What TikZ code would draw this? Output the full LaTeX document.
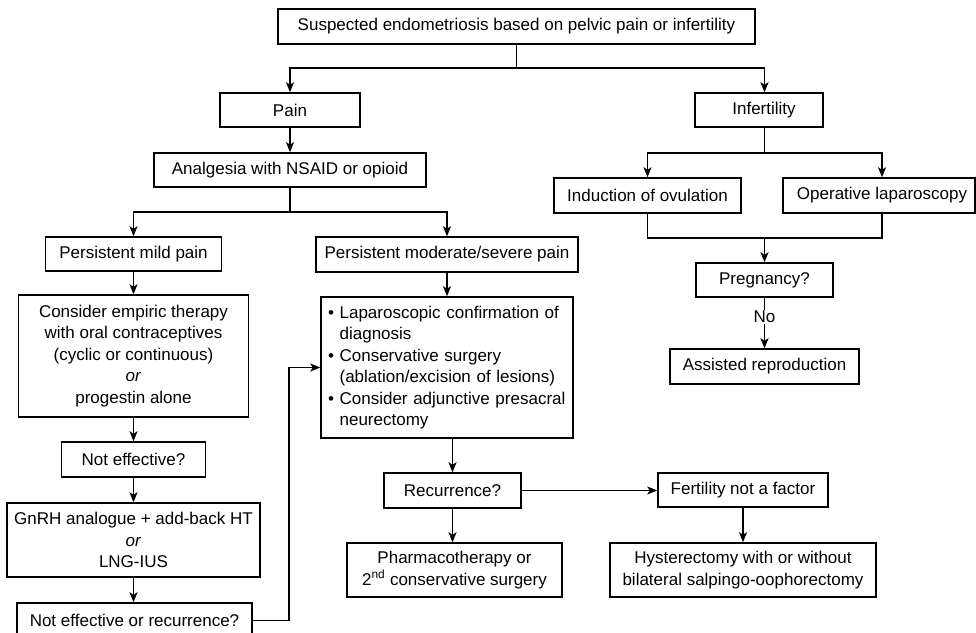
\documentclass[tikz,border=0pt]{standalone}
\usepackage{fontspec}
\setmainfont{Liberation Sans}
\usetikzlibrary{arrows.meta}
\begin{document}
\begin{tikzpicture}[x=1pt,y=-1pt,
  bx/.style={draw, line width=1.5pt, inner sep=0pt, align=center, font=\fontsize{17}{21.5}\selectfont},
  sz/.style 2 args={minimum width=#1pt, minimum height=#2pt},
  conn/.style={line width=1.5pt},
  arr/.style={conn, -{Stealth[length=10pt,width=8pt,inset=2.5pt]}}]
\useasboundingbox (0,0) rectangle (976,632);

% nodes
\node[bx, sz={477}{35}] (top) at (516.5,26.5) {Suspected endometriosis based on pelvic pain or infertility};
\node[bx, sz={140}{34}] (pain) at (290,110) {Pain};
\node[bx, sz={272}{34}] (analg) at (290,170) {Analgesia with NSAID or opioid};
\node[bx, sz={128}{34}] (infert) at (759,110) {\hspace*{10pt}Infertility};
\node[bx, sz={187}{35}] (induct) at (647.5,195.5) {Induction of ovulation};
\node[bx, sz={192}{35}] (oplap) at (879,195.5) {\hspace*{6pt}Operative laparoscopy};
\node[bx, sz={137}{34}] (preg) at (764.5,280) {Pregnancy?};
\node[bx, sz={189}{35}] (assist) at (764.5,366.5) {Assisted reproduction};
\node[bx, sz={176}{34}] (mild) at (133.5,254) {Persistent mild pain};
\node[bx, sz={230}{122}] (empiric) at (133.5,356) {Consider empiric therapy\\with oral contraceptives\\(cyclic or continuous)\\\textit{or}\\progestin alone};
\node[bx, sz={144}{35}] (noteff) at (133.5,459.5) {Not effective?};
\node[bx, sz={253}{74}] (gnrh) at (133.5,540) {GnRH analogue + add-back HT\\\textit{or}\\LNG-IUS};
\node[bx, sz={235}{35}] (noteffrec) at (134.5,620.5) {Not effective or recurrence?};
\node[bx, sz={262}{35}] (moder) at (447,254.5) {Persistent moderate/severe pain};
\node[bx, sz={252}{141}, text width=238pt, align=left] (lap) at (447,367.5)
  {\textbullet\ Laparoscopic confirmation of\\
   \hphantom{\textbullet\ }diagnosis\\
   \textbullet\ Conservative surgery\\
   \hphantom{\textbullet\ }(ablation/excision of lesions)\\
   \textbullet\ Consider adjunctive presacral\\
   \hphantom{\textbullet\ }neurectomy};
\node[bx, sz={137}{35}] (recur) at (452.5,490.5) {Recurrence?};
\node[bx, sz={215}{54}] (pharm) at (454.5,570) {Pharmacotherapy or\\2\textsuperscript{nd} conservative surgery};
\node[bx, sz={170}{34}] (fert) at (743,490) {Fertility not a factor};
\node[bx, sz={266}{54}] (hyst) at (743,570) {Hysterectomy with or without\\bilateral salpingo-oophorectomy};

% junctions
\coordinate (j1) at (516.5,68);
\coordinate (j2) at (764.5,153);
\coordinate (j3) at (764.5,238);
\coordinate (j4) at (290,212);
\coordinate (j5) at (289,620.5);

% connectors
\draw[conn] (top.south) -- (j1);
\draw[arr] (j1) -| (pain.north);
\draw[arr] (j1) -| (infert.north -| preg.north);
\draw[conn] (infert.south -| preg.north) -- (j2);
\draw[arr] (j2) -| (induct.north);
\draw[arr] (j2) -| (oplap.north -| 882,0);
\draw[conn] (induct.south) |- (j3) -| (oplap.south -| 882,0);
\draw[arr] (j3) -- (preg.north);
\draw[arr] (preg.south) -- node[pos=0.38, fill=white, inner sep=1pt, font=\fontsize{17}{21.5}\selectfont] (nolab) {No} (assist.north);

\draw[arr] (pain) -- (analg);
\draw[conn] (analg.south) -- (j4);
\draw[arr] (j4) -| (mild.north);
\draw[arr] (j4) -| (moder.north);
\draw[arr] (mild) -- (empiric);
\draw[arr] (empiric) -- (noteff);
\draw[arr] (noteff) -- (gnrh);
\draw[arr] (gnrh.south) -- (gnrh.south |- noteffrec.north);
\draw[conn] (noteffrec.east) -- (j5);
\draw[arr] (j5) |- (lap.west);

\draw[arr] (moder) -- (lap);
\draw[arr] (lap.south -| recur.north) -- (recur.north);
\draw[arr] (recur.south) -- (recur.south |- pharm.north);
\draw[arr] (recur.east) -- (recur.east -| fert.west);
\draw[arr] (fert) -- (hyst);
\end{tikzpicture}
\end{document}
